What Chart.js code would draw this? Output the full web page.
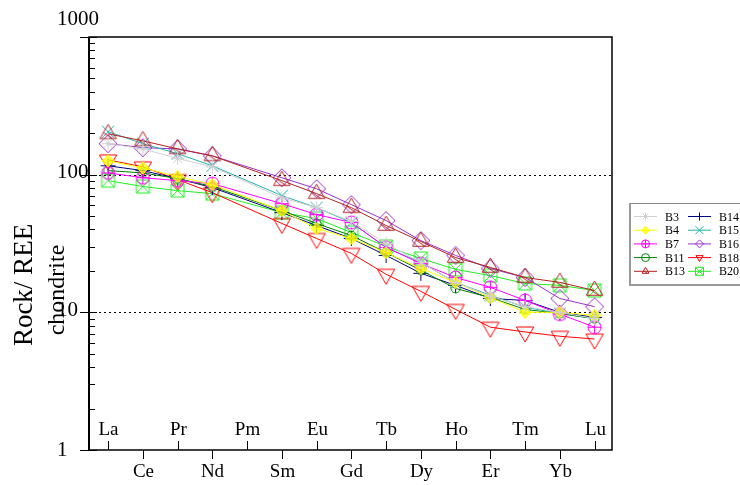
<!DOCTYPE html>
<html>
<head>
<meta charset="utf-8">
<script src="https://cdn.jsdelivr.net/npm/chart.js@4.4.1/dist/chart.umd.min.js"></script>
<style>
  html, body { margin: 0; padding: 0; background: #fff; }
  #wrap { width: 740px; height: 485px; }
</style>
</head>
<body>
<div id="wrap"><canvas id="c" width="740" height="485"></canvas></div>
<script>
// Rare earth elements, chondrite-normalised (Pm has no analysis)
const elements = ['La','Ce','Pr','Nd','Pm','Sm','Eu','Gd','Tb','Dy','Ho','Er','Tm','Yb','Lu'];
const yTickValues = [1, 10, 100, 1000];
const yTickLabels = ['1', '10', '100', '1000'];

const B3  = [168, 154, 131, 114, null, 68,   57.6, 45.7, 31.6, 23.0, 16.5, 13.1, 11.0, 10.0, 9.0];
const B4  = [126, 112, 96.8, 84.7, null, 54.8, 40.6, 34.4, 27.2, 20.8, 16.5, 12.8, 10.0, 10.0, 9.5];
const B7  = [103, 95,  90.5, 86,  null, 61.6, 51.3, 44.9, 29.6, 22.6, 17.9, 15.2, 12.2, 9.7, 7.8];
const B11 = [107, 103, 93.6, 82,  null, 54.8, 44.2, 36.1, 27.2, 20.2, 14.9, 12.8, 10.5, 9.8, 9.0];
const B13 = [198, 176, 154, 137,  null, 90.5, 72.8, 57.6, 42.7, 32.7, 25.0, 21.2, 17.9, 16.5, 14.4];
const B14 = [116, 107, 93.6, 80.5, null, 53,  42.7, 34.4, 25.9, 19.2, 15.7, 12.6, 12.2, 10.0, 9.2];
const B15 = [205, 168, 142, 116,  null, 70.4, 57.6, 44.9, 29.6, 23.0, 16.5, 13.3, 10.9, 9.8, 9.0];
const B16 = [168, 157, 154, 137,  null, 95,   79,   60.6, 46.4, 33.2, 25.9, 20.8, 17.9, 12.6, 11.0];
const B18 = [128, 114, 92,  74,   null, 44.2, 34.4, 26.8, 18.9, 14.2, 10.5, 7.8, 7.2, 6.7, 6.4];
const B20 = [90.5, 82, 76.6, 72.8, null, 53,  48,   38,   30.1, 24.6, 20.5, 18.5, 16.2, 15.7, 14.4];

const sampleNames = ['B3','B4','B7','B11','B13','B14','B15','B16','B18','B20'];
const sampleValues = [B3, B4, B7, B11, B13, B14, B15, B16, B18, B20];
const sampleColors = ['#d0d0d0','#ffff00','#ff00ff','#008000','#b22222','#000080','#20b2aa','#9932cc','#ff0000','#22ee22'];
const sampleMarks  = ['star','diamondFill','circlePlus','circle','triangle','cross','crossRot','diamond','triangleDown','rectCross'];
const plotRadius   = [6.5, 6, 6.5, 4.5, 9.5, 7.5, 6, 9, 10, 6.5];

const SERIF = '"Liberation Serif", "Times New Roman", serif';

function drawMark(ctx, kind, x, y, r, color) {
  ctx.save();
  ctx.strokeStyle = color;
  ctx.fillStyle = color;
  ctx.lineWidth = 1;
  ctx.beginPath();
  switch (kind) {
    case 'star':
      for (let k = 0; k < 4; k++) {
        const a = k * Math.PI / 4;
        ctx.moveTo(x - r * Math.cos(a), y - r * Math.sin(a));
        ctx.lineTo(x + r * Math.cos(a), y + r * Math.sin(a));
      }
      ctx.stroke();
      break;
    case 'diamondFill':
      ctx.moveTo(x, y - r); ctx.lineTo(x + r, y); ctx.lineTo(x, y + r); ctx.lineTo(x - r, y); ctx.closePath();
      ctx.globalAlpha = 0.75; ctx.fill(); ctx.globalAlpha = 1; ctx.stroke();
      break;
    case 'diamond':
      ctx.moveTo(x, y - r); ctx.lineTo(x + r, y); ctx.lineTo(x, y + r); ctx.lineTo(x - r, y); ctx.closePath();
      ctx.stroke();
      break;
    case 'circle':
      ctx.arc(x, y, r, 0, Math.PI * 2); ctx.stroke();
      break;
    case 'circlePlus':
      ctx.arc(x, y, r, 0, Math.PI * 2);
      ctx.moveTo(x - r, y); ctx.lineTo(x + r, y);
      ctx.moveTo(x, y - r); ctx.lineTo(x, y + r);
      ctx.stroke();
      break;
    case 'triangle':
      ctx.moveTo(x, y - r); ctx.lineTo(x + 0.866 * r, y + 0.5 * r); ctx.lineTo(x - 0.866 * r, y + 0.5 * r); ctx.closePath();
      ctx.moveTo(x - 0.45 * r, y - 0.1 * r); ctx.lineTo(x + 0.45 * r, y + 0.5 * r);
      ctx.stroke();
      break;
    case 'triangleDown':
      ctx.moveTo(x, y + r); ctx.lineTo(x + 0.866 * r, y - 0.5 * r); ctx.lineTo(x - 0.866 * r, y - 0.5 * r); ctx.closePath();
      ctx.stroke();
      break;
    case 'cross':
      ctx.moveTo(x - r, y); ctx.lineTo(x + r, y);
      ctx.moveTo(x, y - r); ctx.lineTo(x, y + r);
      ctx.stroke();
      break;
    case 'crossRot':
      ctx.moveTo(x - r, y - r); ctx.lineTo(x + r, y + r);
      ctx.moveTo(x + r, y - r); ctx.lineTo(x - r, y + r);
      ctx.stroke();
      break;
    case 'rectCross':
      ctx.rect(x - r, y - r, 2 * r, 2 * r);
      ctx.moveTo(x - r, y - r); ctx.lineTo(x + r, y + r);
      ctx.moveTo(x + r, y - r); ctx.lineTo(x - r, y + r);
      ctx.stroke();
      break;
  }
  ctx.restore();
}

function markCanvas(kind, r, color) {
  const s = Math.ceil(2 * r + 4);
  const cv = document.createElement('canvas');
  cv.width = s; cv.height = s;
  drawMark(cv.getContext('2d'), kind, s / 2, s / 2, r, color);
  return cv;
}

const datasets = sampleNames.map((name, k) => ({
  label: name,
  data: sampleValues[k].map((v, i) => ({ x: i, y: v })),
  borderColor: sampleColors[k],
  backgroundColor: sampleColors[k],
  borderWidth: 1,
  pointStyle: markCanvas(sampleMarks[k], plotRadius[k], sampleColors[k]),
  spanGaps: true,
  tension: 0
}));

// Frame, dotted decade lines, split element labels, log ticks, titles and legend
const reePlot = {
  id: 'reePlot',
  beforeDatasetsDraw(chart) {
    const { ctx, chartArea: a, scales: { y } } = chart;
    ctx.save();
    ctx.strokeStyle = '#000';
    ctx.lineWidth = 1;
    ctx.setLineDash([2, 3]);
    [10, 100].forEach(v => {
      const py = Math.round(y.getPixelForValue(v)) + 0.5;
      ctx.beginPath(); ctx.moveTo(a.left, py); ctx.lineTo(a.right, py); ctx.stroke();
    });
    ctx.restore();
  },
  afterDatasetsDraw(chart) {
    const { ctx, chartArea: a, scales: { x, y } } = chart;
    ctx.save();
    // frame
    ctx.strokeStyle = '#000';
    ctx.lineWidth = 1.5;
    ctx.strokeRect(a.left, a.top, a.right - a.left, a.bottom - a.top);
    ctx.lineWidth = 2;
    ctx.beginPath(); ctx.moveTo(a.left, a.top); ctx.lineTo(a.left, a.bottom); ctx.stroke();

    // log ticks: minor inward, decades outward
    ctx.lineWidth = 1;
    for (let d = 1; d < 1000; d *= 10) {
      for (let m = 2; m <= 9; m++) {
        const py = Math.round(y.getPixelForValue(m * d)) + 0.5;
        ctx.beginPath(); ctx.moveTo(a.left, py); ctx.lineTo(a.left + 6, py); ctx.stroke();
      }
    }
    yTickValues.forEach(v => {
      const py = Math.round(y.getPixelForValue(v)) + 0.5;
      ctx.beginPath(); ctx.moveTo(a.left - 9, py); ctx.lineTo(a.left + 8, py); ctx.stroke();
    });
    ctx.fillStyle = '#000';
    ctx.font = '21px ' + SERIF;
    ctx.textAlign = 'left';
    ctx.textBaseline = 'middle';
    yTickValues.forEach((v, i) => {
      let py = y.getPixelForValue(v) - 2;
      if (v === 1000) py -= 16;
      if (v === 1) py += 2;
      ctx.fillText(yTickLabels[i], 57, py);
    });

    // element labels alternate above (inside) and below (outside) the base line
    ctx.font = '19px ' + SERIF;
    ctx.textAlign = 'center';
    elements.forEach((el, i) => {
      const px = Math.round(x.getPixelForValue(i)) + 0.5;
      ctx.beginPath();
      if (i % 2 === 0) {
        ctx.moveTo(px, a.bottom - 9); ctx.lineTo(px, a.bottom);
        ctx.stroke();
        ctx.fillText(el, px, a.bottom - 20);
      } else {
        ctx.moveTo(px, a.bottom); ctx.lineTo(px, a.bottom + 9);
        ctx.stroke();
        ctx.fillText(el, px, a.bottom + 22);
      }
    });

    // axis titles
    ctx.save();
    ctx.translate(25, 285);
    ctx.rotate(-Math.PI / 2);
    ctx.font = '27px ' + SERIF;
    ctx.fillText('Rock/ REE', 0, 0);
    ctx.restore();
    ctx.save();
    ctx.translate(58, 290);
    ctx.rotate(-Math.PI / 2);
    ctx.font = '24px ' + SERIF;
    ctx.fillText('chondrite', 0, 0);
    ctx.restore();

    // legend box, two columns of five
    const bx = 629, by = 203, bw = 120, bh = 81;
    ctx.strokeStyle = '#888';
    ctx.lineWidth = 1;
    ctx.strokeRect(bx + 0.5, by + 0.5, bw, bh);
    ctx.strokeStyle = '#999';
    ctx.lineWidth = 2;
    ctx.beginPath(); ctx.moveTo(bx + 1, by); ctx.lineTo(bx + 1, by + bh + 1); ctx.lineTo(740, by + bh + 1); ctx.stroke();
    ctx.font = '12px ' + SERIF;
    ctx.textAlign = 'left';
    ctx.textBaseline = 'middle';
    sampleNames.forEach((name, k) => {
      const col = Math.floor(k / 5), row = k % 5;
      const lx = bx + 5 + col * 54, ly = by + 13.5 + row * 13.7;
      ctx.strokeStyle = sampleColors[k];
      ctx.lineWidth = 1;
      ctx.beginPath(); ctx.moveTo(lx, ly); ctx.lineTo(lx + 23, ly); ctx.stroke();
      drawMark(ctx, sampleMarks[k], lx + 11.5, ly, 4, sampleColors[k]);
      ctx.fillStyle = '#000';
      ctx.fillText(name, lx + 31, ly + 1);
    });
    ctx.restore();
  }
};

new Chart(document.getElementById('c'), {
  type: 'line',
  data: { datasets },
  options: {
    responsive: false,
    animation: false,
    events: [],
    layout: { padding: { left: 89, right: 128, top: 37, bottom: 35 } },
    plugins: { legend: { display: false }, tooltip: { enabled: false } },
    scales: {
      x: { type: 'linear', min: -0.55, max: 14.5, display: false },
      y: { type: 'logarithmic', min: 1, max: 1000, display: false }
    }
  },
  plugins: [reePlot]
});
</script>
</body>
</html>
